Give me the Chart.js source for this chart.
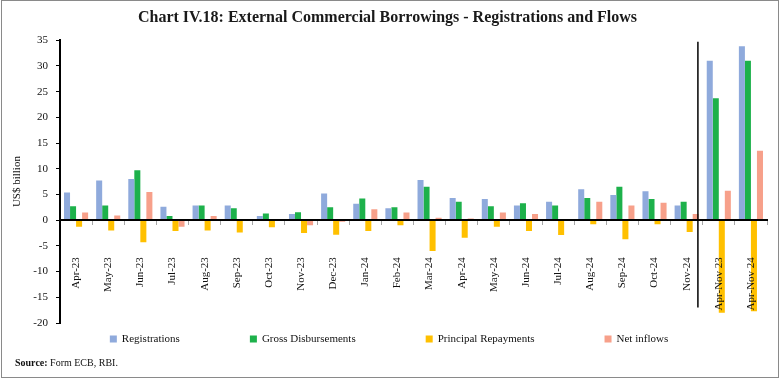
<!DOCTYPE html>
<html>
<head>
<meta charset="utf-8">
<script src="https://cdn.jsdelivr.net/npm/chart.js@4/dist/chart.umd.min.js"></script>
<style>
  html, body { margin: 0; padding: 0; background: #fff; }
  #wrap { position: relative; width: 780px; height: 380px; overflow: hidden; }
  #frame { position: absolute; left: 1px; top: 0; width: 778px; height: 378px; box-sizing: border-box; border: 1.5px solid #8a8a8a; pointer-events: none; }
  #c { position: absolute; left: 0; top: 0; }
  #src { position: absolute; left: 15px; top: 357px; font: 10px "Liberation Serif", serif; color: #111; }
</style>
</head>
<body>
<div id="wrap">
  <canvas id="c" width="780" height="380"></canvas>
  <div id="frame"></div>
  <div id="src"><b>Source:</b> Form ECB, RBI.</div>
</div>
<script>
const categories = ['Apr-23','May-23','Jun-23','Jul-23','Aug-23','Sep-23','Oct-23','Nov-23','Dec-23','Jan-24','Feb-24','Mar-24','Apr-24','May-24','Jun-24','Jul-24','Aug-24','Sep-24','Oct-24','Nov-24','Apr-Nov 23','Apr-Nov 24'];
const registrations = [5.4,7.7,8.0,2.6,2.85,2.85,0.8,1.2,5.2,3.2,2.3,7.8,4.3,4.1,2.85,3.6,6.0,4.9,5.6,2.85,31.0,33.8];
const grossDisbursements = [2.7,2.85,9.7,0.8,2.85,2.3,1.3,1.55,2.5,4.2,2.5,6.5,3.6,2.7,3.3,2.85,4.3,6.5,4.1,3.6,23.7,31.0];
const principalRepayments = [-1.3,-2.0,-4.3,-2.1,-2.0,-2.4,-1.4,-2.5,-2.85,-2.1,-1.0,-6.0,-3.4,-1.3,-2.1,-2.9,-0.8,-3.7,-0.8,-2.3,-18.0,-17.7];
const netInflows = [1.5,0.9,5.5,-1.3,0.8,-0.1,-0.1,-1.0,-0.3,2.1,1.5,0.45,0.3,1.5,1.2,-0.05,3.6,2.85,3.4,1.2,5.7,13.5];
const seriesNames = ['Registrations','Gross Disbursements','Principal Repayments','Net inflows'];
const yTicks = { min: -20, max: 35, step: 5 };
const separatorAfter = 'Nov-24';

const SERIF = '"Liberation Serif", serif';
const colors = ['#8FAADC', '#1DB14B', '#FFC000', '#F7A08A'];

const separatorPlugin = {
  id: 'separator',
  afterDatasetsDraw(chart) {
    const x = chart.scales.x, y = chart.scales.y;
    const i = categories.indexOf(separatorAfter);
    const a = x.getPixelForValue(i), b = x.getPixelForValue(i + 1);
    const px = a + 0.35 * (b - a);
    const ctx = chart.ctx;
    ctx.save();
    ctx.strokeStyle = '#000';
    ctx.lineWidth = 1.5;
    ctx.beginPath();
    ctx.moveTo(px, y.getPixelForValue(34.7));
    ctx.lineTo(px, y.getPixelForValue(-17.0));
    ctx.stroke();
    ctx.restore();
  }
};

const legendPlugin = {
  id: 'bottomLegend',
  afterDraw(chart) {
    const ctx = chart.ctx;
    ctx.save();
    ctx.font = '11px ' + SERIF;
    const box = 7, gapText = 5, gapItem = 70;
    const items = chart.data.datasets.map(d => ({ text: d.label, color: d.backgroundColor, w: ctx.measureText(d.label).width }));
    const total = items.reduce((s, it) => s + box + gapText + it.w, 0) + gapItem * (items.length - 1);
    let x = 389 - total / 2;
    const yc = 339;
    ctx.textBaseline = 'middle';
    ctx.textAlign = 'left';
    items.forEach(it => {
      ctx.fillStyle = it.color;
      ctx.fillRect(x, yc - 3.5, box, box);
      ctx.fillStyle = '#111';
      ctx.fillText(it.text, x + box + gapText, yc + 0.5);
      x += box + gapText + it.w + gapItem;
    });
    ctx.restore();
  }
};

const seriesData = [registrations, grossDisbursements, principalRepayments, netInflows];

new Chart(document.getElementById('c'), {
  type: 'bar',
  data: {
    labels: categories,
    datasets: seriesNames.map((name, k) => ({
      label: name,
      data: seriesData[k],
      backgroundColor: colors[k],
      borderWidth: 0,
      categoryPercentage: 0.75,
      barPercentage: 1.0
    }))
  },
  options: {
    responsive: false,
    animation: false,
    layout: { padding: { left: 8, right: 13, top: 0, bottom: 57 } },
    plugins: {
      legend: { display: false },
      tooltip: { enabled: false },
      title: {
        display: true,
        text: 'Chart IV.18: External Commercial Borrowings - Registrations and Flows',
        color: '#1a1a1a',
        font: { family: SERIF, size: 16, weight: 'bold' },
        padding: { top: 8, bottom: 13 }
      }
    },
    scales: {
      x: {
        type: 'category',
        position: { y: 0 },
        offset: true,
        afterFit(scale) { scale.paddingLeft = 0; scale.paddingRight = 0; },
        grid: { offset: true, drawOnChartArea: false, drawTicks: true, tickLength: 4, color: '#a6a6a6', tickWidth: 1 },
        border: { display: true, color: '#000', width: 2, z: 1 },
        ticks: { z: 1, autoSkip: false, minRotation: 90, maxRotation: 90, padding: 33, color: '#111', font: { family: SERIF, size: 11 } }
      },
      y: {
        min: yTicks.min,
        max: yTicks.max,
        afterFit(scale) { scale.width = 52; },
        grid: { drawOnChartArea: false, drawTicks: true, tickLength: 4, color: '#000', tickWidth: 1 },
        border: { display: true, color: '#000', width: 2 },
        ticks: { stepSize: yTicks.step, padding: 8, color: '#111', font: { family: SERIF, size: 11 } },
        title: { display: true, text: 'US$ billion', color: '#111', font: { family: SERIF, size: 11 }, padding: { top: 3, bottom: 0 } }
      }
    }
  },
  plugins: [separatorPlugin, legendPlugin]
});
</script>
</body>
</html>
